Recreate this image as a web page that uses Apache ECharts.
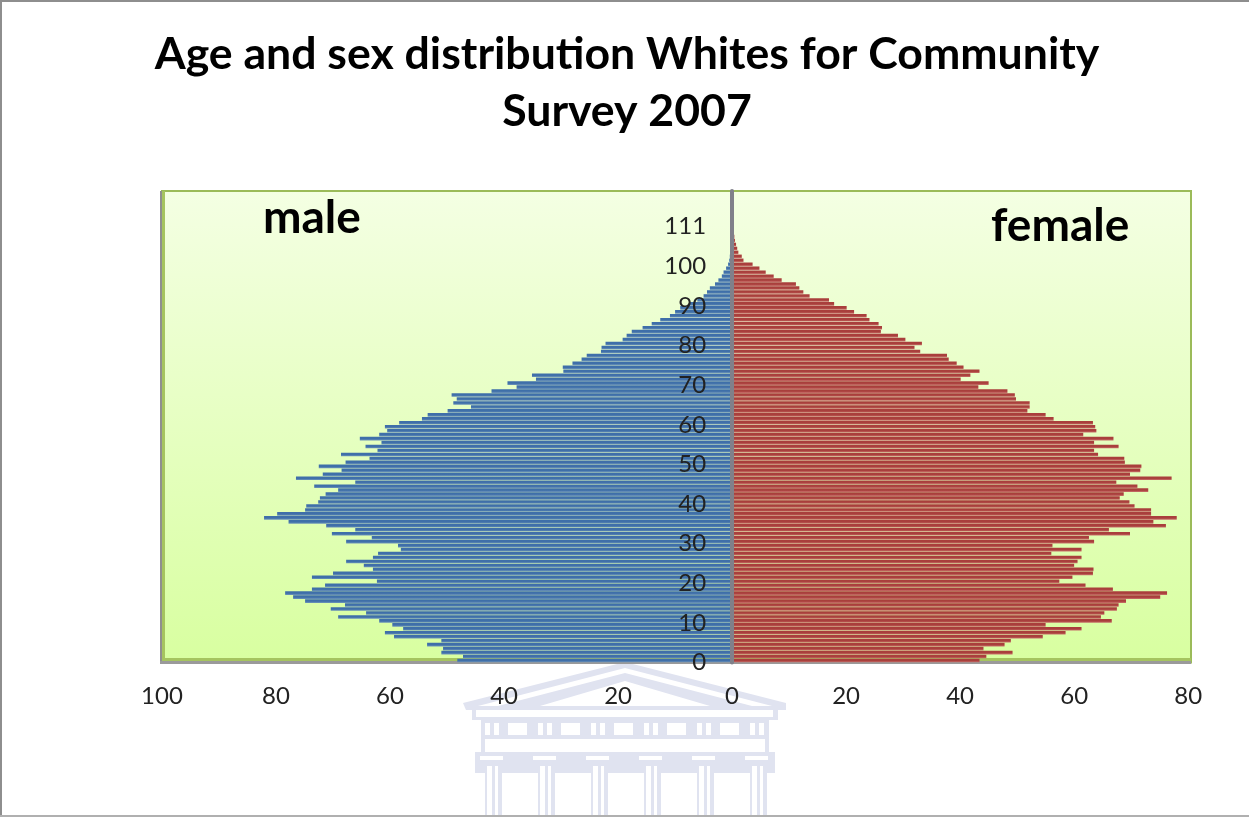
<!DOCTYPE html>
<html>
<head>
<meta charset="utf-8">
<style>html,body{margin:0;padding:0;background:#fff}#chart{width:1249px;height:817px}</style>
<script src="https://cdn.jsdelivr.net/npm/echarts@6/dist/echarts.min.js"></script>
</head>
<body>
<div id="chart"></div>
<script>
// Single-year population counts, youngest row first.
const maleCounts = [
  48.2,47.2,51.0,50.7,53.5,51.0,59.3,60.9,57.7,59.6,
  61.9,69.1,64.2,70.4,67.9,74.9,77.0,78.4,73.7,71.4,
  62.3,73.7,70.0,63.0,64.6,67.7,63.0,62.1,58.1,58.6,
  67.7,63.2,70.2,66.1,71.2,77.8,82.1,79.8,74.9,74.7,
  72.6,72.3,71.3,69.1,73.3,66.1,76.5,71.8,68.5,72.5,
  67.8,63.6,68.6,62.2,64.3,61.5,65.3,61.9,60.5,60.9,
  58.4,54.4,53.4,49.9,45.8,48.9,48.3,49.2,42.2,37.8,
  39.4,34.4,35.1,29.6,29.7,28.0,26.4,25.5,23.0,22.9,
  22.2,19.2,18.5,17.6,15.7,14.1,12.6,10.9,10.0,9.1,
  7.4,6.1,5.0,4.4,3.9,3.0,2.4,1.8,1.5,1.05,
  0.7,0.5,0.4,0.3,0.2,0.15,0.1,0.1,0.1,0.1,
  0.1,0.1,0.1,0.1,0.1,0.1,0.1,0.1,0.1
];
const femaleCounts = [
  43.4,44.6,49.2,44.1,47.8,48.9,54.5,58.5,61.3,55.0,
  66.6,64.7,65.3,67.5,67.8,69.1,75.1,76.3,66.8,62.0,
  57.4,59.7,63.3,63.4,60.0,60.6,61.3,56.0,61.3,56.2,
  63.5,62.6,69.8,66.1,76.1,73.9,78.0,73.5,73.5,70.6,
  69.7,68.0,68.7,73.0,71.1,67.4,77.1,69.8,71.6,71.8,
  68.9,68.8,64.2,63.5,67.8,63.5,66.9,61.6,63.9,63.7,
  63.3,56.4,55.0,51.8,52.2,52.2,49.8,49.6,48.3,43.2,
  45.0,40.1,41.8,43.4,40.6,39.4,38.0,37.7,33.0,32.0,
  33.3,30.4,29.1,26.1,26.3,25.7,24.1,23.6,21.4,20.1,
  17.9,17.0,13.6,12.5,11.8,11.2,8.7,7.3,5.9,4.8,
  3.6,2.0,1.7,1.1,0.9,0.7,0.5,0.4,0.3,0.25,
  0.2,0.2,0.15,0.1,0.1,0.1,0.1,0.1,0.1
];
const rows = maleCounts.map((_, i) => i);
const tickRows = [0,10,20,30,40,50,60,70,80,90,100,110];
const tickLabels = ['0','10','20','30','40','50','60','70','80','90','100','111'];

const GRID_WIDTH = 1029, X_MIN = -100, X_MAX = 80.5;
const LAVENDER = '#e0e3f0';
const box = (x, y, width, height, fill, z) => ({type:'rect', silent:true, z, shape:{x,y,width,height}, style:{fill}});
const tri = (points, fill) => ({type:'polygon', silent:true, z:-5, shape:{points}, style:{fill}});

// University crest printed behind the axis labels
function crest() {
  const parts = [
    tri([[625,662],[463,703],[466,710],[786,710],[786,703]], LAVENDER),
    tri([[625,668],[478,706],[772,706]], '#fff'),
    tri([[625,673],[498,706],[752,706]], LAVENDER),
    tri([[625,681],[540,706],[710,706]], '#fff'),
    box(472,706,306,14,LAVENDER,-5),
    box(476,710,297,7,'#fff',-4),
    box(481,720,288,32,LAVENDER,-5),
    box(485,739,280,13,'#fff',-4),
    box(475,752,300,21,LAVENDER,-5)
  ];
  for (let i = 0; i < 6; i++) {
    const x = 485 + i * 53;
    parts.push(box(x-5,756,23,4,'#fff',-4));
    parts.push(box(x,764,17,53,LAVENDER,-5));
    parts.push(box(x+2,766,5,51,'#fff',-4));
    parts.push(box(x+10,766,3,51,'#fff',-4));
    parts.push(box(x,723,5,12,'#fff',-4));
    parts.push(box(x+9,723,5,12,'#fff',-4));
    if (i < 5) parts.push(box(x+23,723,19,12,'#fff',-4));
  }
  return parts;
}

const stripe = (top, bottom) => ({
  type:'linear', x:0, y:0, x2:0, y2:1,
  colorStops:[{offset:0,color:top},{offset:0.55,color:top},{offset:1,color:bottom}]
});

const chart = echarts.init(document.getElementById('chart'), null, {renderer:'canvas'});
chart.setOption({
  animation:false,
  backgroundColor:'#fff',
  title:[
    {text:'Age and sex distribution Whites for Community\nSurvey 2007', top:21, left:622,
     textAlign:'center',
     textStyle:{fontFamily:'Lato', fontWeight:'bold', fontSize:44.6, lineHeight:57, color:'#000'}},
    {text:'male', left:258, top:190, textStyle:{fontFamily:'Lato', fontWeight:'bold', fontSize:46, color:'#000'}},
    {text:'female', left:986, top:198, textStyle:{fontFamily:'Lato', fontWeight:'bold', fontSize:46, color:'#000'}}
  ],
  grid:{left:162, top:191, width:GRID_WIDTH, height:471.5, show:true, borderWidth:2, borderColor:'#9bbb59',
    backgroundColor:{type:'linear',x:0,y:0,x2:0,y2:1,colorStops:[{offset:0,color:'#f4ffe3'},{offset:1,color:'#d8ffa0'}]}},
  xAxis:{
    type:'value', min:X_MIN, max:X_MAX, interval:20, splitLine:{show:false}, axisTick:{show:false},
    axisLine:{show:false}, showMaxLabel:false,
    axisLabel:{margin:22, fontFamily:'Lato', fontSize:24, color:'#222',
      formatter:v => (Number.isInteger(v) ? String(Math.abs(v)) : '')}
  },
  yAxis:{
    type:'category', data:rows, z:5, axisTick:{show:false},
    // the age axis runs up the zero line, between the two halves
    offset:X_MIN / (X_MAX - X_MIN) * GRID_WIDTH,
    axisLine:{onZero:false, lineStyle:{color:'#80808a', width:4}},
    axisLabel:{interval:0, margin:26,
      formatter:(v, i) => { const k = tickRows.indexOf(i); return k < 0 ? '' : '{age|' + tickLabels[k] + '}'; },
      rich:{age:{padding:[4,0,0,0], fontFamily:'Lato', fontSize:24, color:'#222'}}}
  },
  series:[
    {name:'male', type:'bar', data:maleCounts.map(v => -v), barWidth:3.6, barGap:'-100%', z:3,
     itemStyle:{color:stripe('#3f6fa9','#6f96ba')}},
    {name:'female', type:'bar', data:femaleCounts, barWidth:3.6, barGap:'-100%', z:3,
     itemStyle:{color:stripe('#a93f3c','#c9726c')}}
  ],
  graphic:{elements:[
    ...crest(),
    box(0,0,1249,2,'#8e8e8e',1), box(0,0,2,817,'#8e8e8e',1), box(0,815,1249,2,'#b0b0b0',1),
    box(160,191,3,472,'#8f8f8f',1), box(162,191,3,470,'#a5c45f',1),
    box(160,661,1031,3,'#9a9a9a',1), box(162,658,1029,3,'#a5c45f',1)
  ]}
});
</script>
</body>
</html>
